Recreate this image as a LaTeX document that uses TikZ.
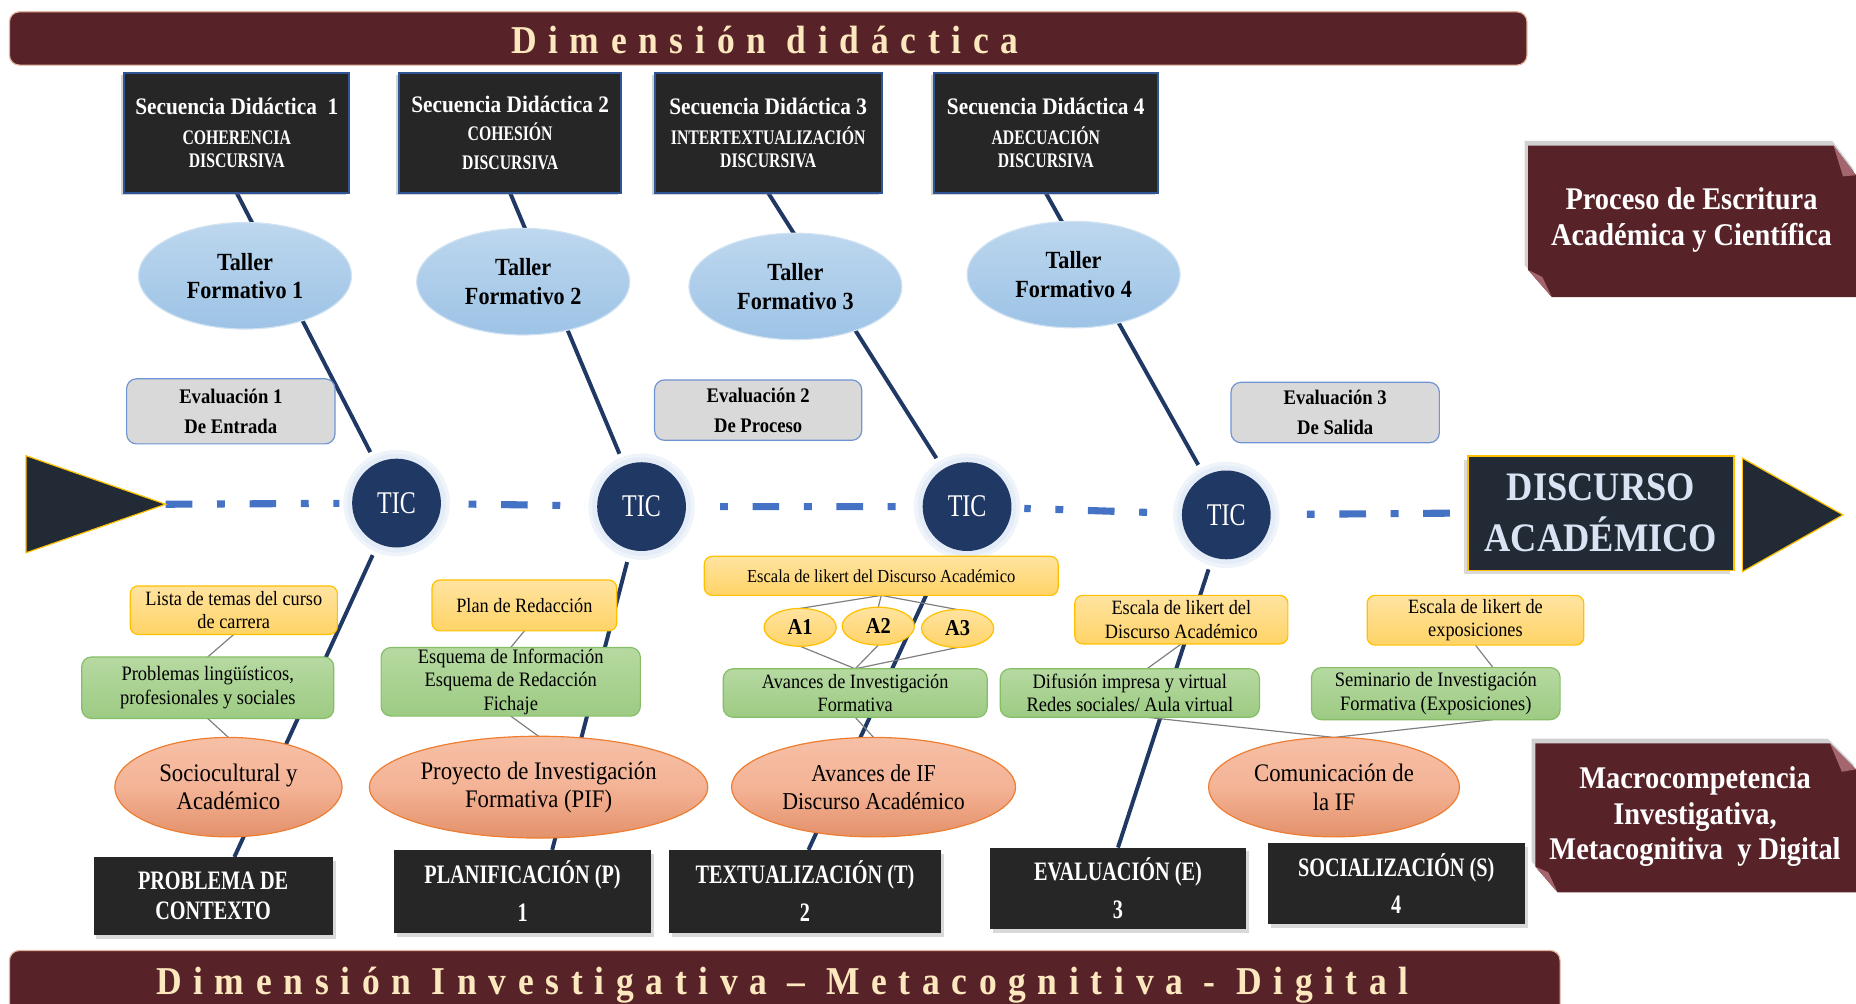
\documentclass[tikz,border=0pt]{standalone}
\usepackage{fontspec}
\setmainfont{Liberation Serif}[FakeStretch=0.9]
\newfontfamily\narrowfont{Liberation Serif}[FakeStretch=0.76]
\newfontfamily\bannerfont{Liberation Serif}[FakeStretch=0.9,LetterSpace=29.6]
\usetikzlibrary{shapes.geometric,shadows,calc}

\definecolor{bandred}{HTML}{582328}
\definecolor{bandedge}{HTML}{E3B49E}
\definecolor{cream}{HTML}{FCE8BE}
\definecolor{boxdark}{HTML}{262626}
\definecolor{sdedge}{HTML}{2F5597}
\definecolor{bonecol}{HTML}{1F3864}
\definecolor{ticfill}{HTML}{203864}
\definecolor{glowblue}{HTML}{DCE7F5}
\definecolor{spinecol}{HTML}{4472C4}
\definecolor{navyslate}{HTML}{222A35}
\definecolor{goldline}{HTML}{FFC000}
\definecolor{endtext}{HTML}{DAE3F3}
\definecolor{tallertop}{HTML}{BDD7EE}
\definecolor{tallerbot}{HTML}{9DC3E6}
\definecolor{evalfill}{HTML}{D9D9D9}
\definecolor{evaledge}{HTML}{6F93D3}
\definecolor{yeltop}{HTML}{FFE3A0}
\definecolor{yelbot}{HTML}{FFD366}
\definecolor{yeledge}{HTML}{FFC000}
\definecolor{grntop}{HTML}{B6D9A1}
\definecolor{grnbot}{HTML}{9DCB83}
\definecolor{grnedge}{HTML}{86BE67}
\definecolor{saltop}{HTML}{F6C0A6}
\definecolor{salmid}{HTML}{F4B396}
\definecolor{salbot}{HTML}{E3916A}
\definecolor{saledge}{HTML}{ED7D31}
\definecolor{thinline}{HTML}{7F7F7F}
\definecolor{foldcol}{HTML}{A3666E}

\pgfdeclarelayer{bones}
\pgfdeclarelayer{glow}
\pgfsetlayers{bones,glow,main}

\tikzset{
  every node/.style={inner sep=0pt, outer sep=0pt},
  sz/.style 2 args={minimum width={#1*0.6pt}, minimum height={#2*0.6pt}},
  banner/.style={fill=bandred, draw=bandedge, line width=0.6pt, rounded corners=5pt},
  bannertext/.style={text=cream, anchor=base, font=\bannerfont\bfseries\fontsize{20}{24}\selectfont},
  sdbox/.style={fill=boxdark, draw=sdedge, line width=1pt, text=white, align=center,
    font=\bfseries\fontsize{10.5}{12}\selectfont,
    drop shadow={shadow xshift=-1.5pt, shadow yshift=-1pt, opacity=.35}},
  taller/.style={ellipse, top color=tallertop, bottom color=tallerbot, draw=tallertop!70!white,
    line width=.6pt, align=center, font=\bfseries\fontsize{12.5}{14.4}\selectfont},
  evalbox/.style={rounded corners=5pt, fill=evalfill, draw=evaledge, line width=.6pt,
    align=center, font=\bfseries\fontsize{10.5}{15}\selectfont},
  tic/.style={circle, fill=ticfill, text=white, minimum size=45pt,
    font=\narrowfont\fontsize{16}{18}\selectfont},
  yelbox/.style={rounded corners=4pt, top color=yeltop, bottom color=yelbot, draw=yeledge,
    line width=.6pt, align=center, font=\fontsize{10.3}{12}\selectfont},
  grnbox/.style={rounded corners=5pt, top color=grntop, bottom color=grnbot, draw=grnedge,
    line width=.6pt, align=center, font=\fontsize{10.4}{11.8}\selectfont},
  salmon/.style={ellipse, top color=saltop, bottom color=salbot, middle color=salmid,
    draw=saledge, line width=.6pt, align=center, font=\fontsize{12.8}{14.4}\selectfont},
  aoval/.style={ellipse, top color=yeltop, bottom color=yelbot, draw=yeledge, line width=.6pt,
    font=\bfseries\fontsize{11.5}{12}\selectfont, sz={61}{32}},
  phase/.style={fill=boxdark, text=white, align=center,
    font=\narrowfont\bfseries\fontsize{13.5}{15}\selectfont,
    drop shadow={shadow xshift=1.5pt, shadow yshift=-2pt, opacity=.3}},
  endbox/.style={fill=navyslate, draw=goldline, line width=.8pt, text=endtext, align=center,
    font=\bfseries\fontsize{20.5}{26}\selectfont},
  ribbontext/.style={text=white, align=center, font=\bfseries\fontsize{16}{18}\selectfont},
  bone/.style={draw=bonecol, line width=2pt},
  spine/.style={draw=spinecol, line width=3.6pt, dash pattern=on 13.5pt off 12.5pt on 4pt off 12.5pt},
  twig/.style={draw=thinline, line width=.6pt},
}

\begin{document}
\begin{tikzpicture}[x=0.6pt, y=-0.6pt]
\useasboundingbox (0,0) rectangle (1568,848);

% ---------- dimension banners ----------
\node[banner, sz={1282}{45}] (topban) at (649,32.5) {};
\node[bannertext] (toptitle) at (646,45) {Dimensión didáctica};
\node[banner, sz={1310}{55}] (botban) at (663,830.5) {};
\node[bannertext] (bottitle) at (661,840) {Dimensión Investigativa – Metacognitiva - Digital};

% ---------- didactic sequences ----------
\node[sdbox, sz={190}{101}] (sd1) at (200,112.5)
  {{\fontsize{12}{14}\selectfont Secuencia Didáctica~~1}\\[3pt]{\narrowfont COHERENCIA}\\{\narrowfont DISCURSIVA}};
\node[sdbox, sz={188}{101}] (sd2) at (431,112.5)
  {{\fontsize{12}{14}\selectfont Secuencia Didáctica 2}\\[2pt]{\narrowfont COHESIÓN}\\[3pt]{\narrowfont DISCURSIVA}};
\node[sdbox, sz={192}{101}] (sd3) at (649,112.5)
  {{\fontsize{12}{14}\selectfont Secuencia Didáctica 3}\\[3pt]{\narrowfont INTERTEXTUALIZACIÓN}\\{\narrowfont DISCURSIVA}};
\node[sdbox, sz={189}{101}] (sd4) at (883.5,112.5)
  {{\fontsize{12}{14}\selectfont Secuencia Didáctica 4}\\[3pt]{\narrowfont ADECUACIÓN}\\{\narrowfont DISCURSIVA}};

% ---------- workshops ----------
\node[taller, sz={180}{90}] (tf1) at (207,233) {Taller\\Formativo 1};
\node[taller, sz={180}{90}] (tf2) at (442,238) {Taller\\Formativo 2};
\node[taller, sz={180}{90}] (tf3) at (672,242) {Taller\\Formativo 3};
\node[taller, sz={180}{90}] (tf4) at (907,232) {Taller\\Formativo 4};

% ---------- evaluations ----------
\node[evalbox, sz={176}{55}] (ev1) at (195,347.5) {Evaluación 1\\De Entrada};
\node[evalbox, sz={175}{51}] (ev2) at (640.5,346.5) {Evaluación 2\\De Proceso};
\node[evalbox, sz={176}{51}] (ev3) at (1128,348.5) {Evaluación 3\\De Salida};

% ---------- spine: start, TIC nodes, outcome ----------
\fill[navyslate, draw=goldline, line width=.6pt] (22,385) -- (140,426) -- (22,467) -- cycle;
\coordinate (ltip) at (140,426);
\node[tic] (tic1) at (335,425) {TIC};
\node[tic] (tic2) at (542,428) {TIC};
\node[tic] (tic3) at (817,428) {TIC};
\node[tic] (tic4) at (1036,435) {TIC};
\node[endbox, sz={225}{97}, drop shadow={shadow xshift=-2pt, shadow yshift=-2pt, opacity=.3}]
  (disc) at (1352.5,433.5) {DISCURSO\\ACADÉMICO};
\fill[navyslate, draw=goldline, line width=.6pt] (1472,387) -- (1557,435) -- (1472,483) -- cycle;

% ---------- instruments (yellow) ----------
\node[yelbox, sz={175}{41}] (y1) at (197.5,515.5) {Lista de temas del curso\\de carrera};
\node[yelbox, sz={156}{43}] (y2) at (443,511.5) {Plan de Redacción};
\node[yelbox, sz={299}{33}, font=\fontsize{9.3}{11}\selectfont] (y3) at (744.5,486.5) {Escala de likert del Discurso Académico};
\node[yelbox, sz={180}{41}] (y4) at (998,523.5) {Escala de likert del\\Discurso Académico};
\node[yelbox, sz={183}{42}] (y5) at (1246.5,524) {Escala de likert de\\exposiciones};

\node[aoval] (a1) at (676,530) {A1};
\node[aoval] (a2) at (742,529) {A2};
\node[aoval] (a3) at (809,531) {A3};

% ---------- products (green) ----------
\node[grnbox, sz={213}{52}] (g1) at (175.5,581) {Problemas lingüísticos,\\profesionales y sociales};
\node[grnbox, sz={219}{58}] (g2) at (431.5,576) {Esquema de Información\\Esquema de Redacción\\Fichaje};
\node[grnbox, sz={223}{41}, font=\fontsize{10.3}{12}\selectfont] (g3) at (722.5,585.5) {Avances de Investigación\\Formativa};
\node[grnbox, sz={219}{41}] (g4) at (954.5,585.5) {Difusión impresa y virtual\\Redes sociales/ Aula virtual};
\node[grnbox, sz={210}{44}] (g5) at (1213,586) {Seminario de Investigación\\Formativa (Exposiciones)};

% ---------- contents (salmon) ----------
\node[salmon, sz={192}{84}] (s1) at (193,665) {Sociocultural y\\Académico};
\node[salmon, sz={286}{86}] (s2) at (455,665) {Proyecto de Investigación\\Formativa (PIF)};
\node[salmon, sz={240}{84}, font=\fontsize{12.3}{14.4}\selectfont] (s3) at (738,665) {Avances de IF\\Discurso Académico};
\node[salmon, sz={212}{84}] (s4) at (1127,665) {Comunicación de\\la IF};

% ---------- phases ----------
\node[phase, sz={202}{66}] (b0) at (180,757) {PROBLEMA DE\\CONTEXTO};
\node[phase, sz={217}{70}] (b1) at (441.5,753) {PLANIFICACIÓN (P)\\[4pt]1};
\node[phase, sz={230}{70}] (b2) at (680,753) {TEXTUALIZACIÓN (T)\\[4pt]2};
\node[phase, sz={217}{69}] (b3) at (944.5,750.5) {EVALUACIÓN (E)\\[4pt]3};
\node[phase, sz={217}{69}] (b4) at (1179.5,746.5) {SOCIALIZACIÓN (S)\\[4pt]4};

% ---------- side ribbons ----------
\fill[black, opacity=.18] (1288,119) -- (1548,119) -- (1566,143) -- (1566,246) -- (1308,246) -- (1288,224) -- cycle;
\fill[bandred] (1291,123) -- (1549,123) -- (1568,148) -- (1568,251) -- (1311,251) -- (1291,228) -- cycle;
\fill[foldcol] (1549,123) -- (1568,148) -- (1557,149) -- cycle;
\fill[foldcol] (1291,228) -- (1311,251) -- (1303,234) -- cycle;
\node[ribbontext] (proc) at (1429,186) {Proceso de Escritura\\Académica y Científica};

\fill[black, opacity=.18] (1294,624) -- (1544,624) -- (1566,646) -- (1566,748) -- (1313,748) -- (1294,728) -- cycle;
\fill[bandred] (1297,628) -- (1546,628) -- (1568,650) -- (1568,754) -- (1316,754) -- (1297,732) -- cycle;
\fill[foldcol] (1546,628) -- (1568,650) -- (1556,652) -- cycle;
\fill[foldcol] (1297,732) -- (1316,754) -- (1308,737) -- cycle;
\node[ribbontext] (macro) at (1432,690) {Macrocompetencia\\Investigativa,\\Metacognitiva~~y Digital};

% ---------- halos round the TIC nodes ----------
\begin{pgfonlayer}{glow}
  \foreach \t in {tic1,tic2,tic3,tic4}{
    \fill[white] (\t.center) circle[radius=29pt];
    \fill[glowblue, opacity=.45] (\t.center) circle[radius=27pt];
    \fill[glowblue, opacity=.6] (\t.center) circle[radius=25pt];
  }
\end{pgfonlayer}

% ---------- spine, bones and links ----------
\begin{pgfonlayer}{bones}
  \draw[spine] (ltip) -- (tic1.center) -- (tic2.center) -- (tic3.center) -- (tic4.center) -- ([xshift=-7pt]disc.west);

  \draw[bone] (sd1.south) -- (tic1.center);
  \draw[bone] (sd2.south) -- (tic2.center);
  \draw[bone] (sd3.south) -- (tic3.center);
  \draw[bone] (sd4.south) -- (tic4.center);
  \draw[bone] (tic1.center) -- ([xshift=10.8pt]b0.north);
  \draw[bone] (tic2.center) -- ([xshift=15pt]b1.north);
  \draw[bone] (tic3.center) -- ([xshift=1.8pt]b2.north);
  \draw[bone] (tic4.center) -- (b3.north);

  \draw[twig] (y1.south) -- (g1.north);
  \draw[twig] (g1.south) -- (s1.north);
  \draw[twig] (y2.south) -- (g2.north);
  \draw[twig] (g2.south) -- (s2.north);
  \draw[twig] (y3.south) -- (a1.north);
  \draw[twig] (y3.south) -- (a2.north);
  \draw[twig] (y3.south) -- (a3.north);
  \draw[twig] (a1.south) -- (g3.north);
  \draw[twig] (a2.south) -- (g3.north);
  \draw[twig] (a3.south) -- (g3.north);
  \draw[twig] (g3.south) -- (s3.north);
  \draw[twig] (y4.south) -- ([xshift=8.7pt]g4.north);
  \draw[twig] ([xshift=8.7pt]g4.south) -- (s4.north);
  \draw[twig] (y5.south) -- ([xshift=29pt]g5.north);
  \draw[twig] ([xshift=29pt]g5.south) -- (s4.north);
\end{pgfonlayer}
\end{tikzpicture}
\end{document}
